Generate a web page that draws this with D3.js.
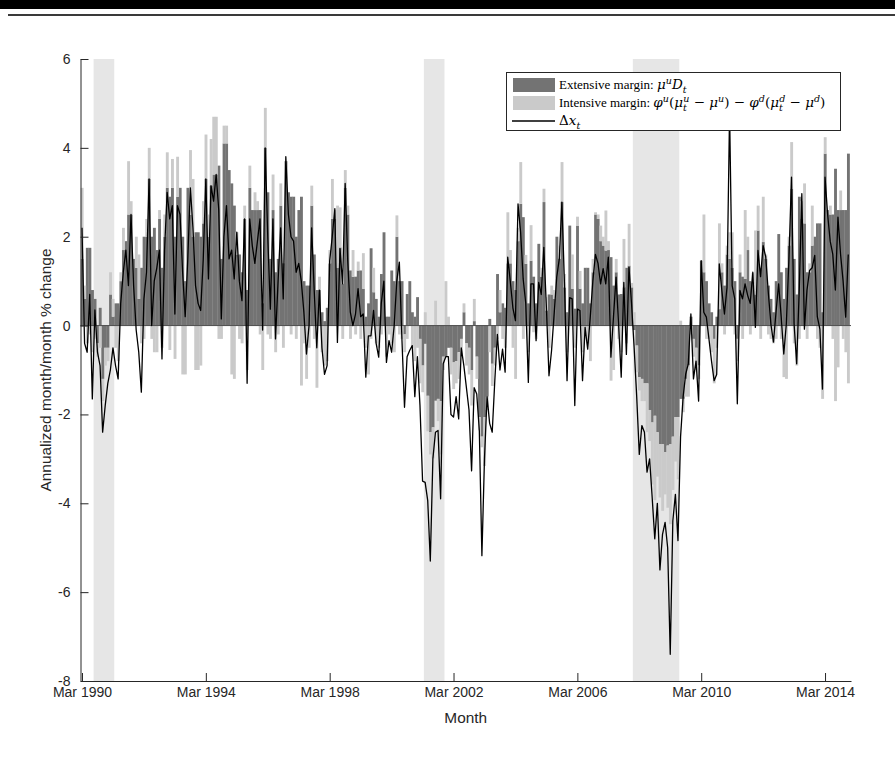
<html>
<head>
<script src="https://d3js.org/d3.v7.min.js"></script>
<style>
  body { margin: 0; background: #fff; }
  .axis text { font-family: "Liberation Sans", Arial, sans-serif; font-size: 14px; fill: #262626; }
  .axis line, .axis path { stroke: #262626; }
  .legend text { font-family: "Liberation Serif", serif; font-size: 13px; fill: #000; }
  .legend tspan.m { font-family: "DejaVu Serif", serif; font-size: 13.5px; }
  .legend tspan.s { font-family: "DejaVu Serif", serif; font-size: 9.5px; }
</style>
</head>
<body>
<svg id="fig" width="895" height="767"></svg>
<script>
// months from Mar 1990 to Dec 2014, one value per month
const extensive = [
  1.5, 0.6, 1.75, 1.75, 0.8, 0.6, -0.4, 0.4, -1.2, -0.5, -0.5, 0.7, 0.2, 0.5, 0.5, 1.0, 1.7, 1.9, 2.5, 2.5,
  1.5, 1.3, 0.6, 1.3, 2.0, 2.0, 3.3, 2.0, 2.2, 1.7, 2.4, 1.3, 2.0, 3.1, 2.9, 3.1, 2.0, 2.9, 3.1, 2.0,
  1.0, 3.1, 2.5, 2.0, 2.1, 2.1, 2.0, 2.3, 3.3, 2.0, 3.15, 3.4, 3.4, 3.6, 1.5, 4.1, 4.1, 3.5, 3.2, 2.7,
  1.6, 1.6, 1.2, 2.4, 0.8, 3.1, 2.6, 2.6, 2.6, 2.6, 0.5, 4.0, 3.0, 1.5, 2.6, 1.2, 1.5, 2.7, 1.4, 3.7,
  3.0, 2.9, 2.9, 2.0, 2.6, 2.9, 1.0, 0.9, 0.9, 2.7, 1.6, 0.8, 0.8, 0.3, 0.1, 0.4, 1.4, 2.4, 2.4, 1.3,
  1.76, 0.94, 3.1, 2.5, 1.24, 1.1, 1.1, 1.24, 1.24, 0.83, 0.2, 0.5, 1.74, 0.75, 0.6, 0.2, 1.16, 2.1, 0.2, 0.2,
  1.24, 1.0, 2.0, 1.0, 1.0, -0.2, 0.71, 1.0, 0.3, 0.2, 0.64, -0.3, -0.9, -0.41, -1.58, -2.4, -2.29, -1.69, -1.65, -1.7,
  -0.7, -0.7, -0.5, -0.5, -0.83, -0.8, -0.6, -0.3, 0.3, -0.4, -0.5, -1.0, 0.1, -0.7, -2.06, -2.5, -2.06, -1.6, 0.15, -0.86,
  -0.5, 1.16, 0.3, 0.5, 0.4, 1.4, 1.4, 1.0, 0.8, 1.9, 2.74, 2.44, 1.39, 0.5, 1.46, 1.1, 0.5, 1.84, 1.1, 2.78,
  0.34, 0.7, 0.7, 0.6, 2.0, 1.5, 2.78, 0.86, 0.3, 2.25, 0.83, 0.38, 2.25, 0.83, 0.5, 1.3, 1.3, 0.5, 1.2, 2.5,
  2.4, 1.9, 1.8, 1.69, 1.7, 1.54, 0.9, 1.2, 0.7, 0.71, 0.86, 1.3, 1.35, 0.86, -0.1, -0.45, -1.16, -1.2, -1.3, -1.3,
  -1.9, -2.18, -2.03, -2.4, -2.67, -2.67, -2.85, -2.7, -2.67, -2.5, -2.06, -2.06, -1.65, -1.65, -1.2, -0.9, 0.2, -0.3, -0.5, -0.9,
  1.46, 1.2, 1.0, 0.5, 0.3, -0.3, 0.2, 0.37, 1.2, 0.9, 1.6, 1.5, 1.3, 1.0, -0.3, 1.2, 1.1, 1.05, 1.7, 1.0,
  0.98, 0.7, 2.14, 1.3, 1.88, 1.5, 0.9, 0.6, 0.3, 1.0, 2.06, 1.2, 0.6, 1.3, 1.8, 3.08, 1.5, 0.7, 2.9, 2.4,
  2.3, 1.2, 1.2, 1.8, 2.0, 2.3, 2.3, 0.3, 3.87, 2.6, 2.5, 2.5, 3.53, 2.6, 2.6, 2.6, 2.6, 3.87
];
const intensive = [
  1.6, 0.3, -0.4, -0.2, -0.6, -0.3, -0.3, -0.5, -0.5, -0.4, -0.3, 0.5, 0.4, -0.5, -0.8, 0.2, 0.5, 0.0, 1.2, 0.3,
  0.0, 0.7, 1.0, -0.4, -0.3, 0.4, 0.7, -0.3, -0.6, -0.6, 0.2, -0.5, 0.5, 0.8, -0.55, 0.65, -0.75, 0.9, 0.0, -1.1,
  -1.1, 0.0, 1.45, 1.3, -1.0, -1.0, -0.9, 0.5, 1.0, 0.5, 1.05, 1.3, 1.3, -0.3, -0.3, 0.4, 0.4, 0.0, -1.1, -1.2,
  0.5, -0.3, -0.4, 0.3, -1.0, 0.5, 0.0, 0.4, 0.2, -0.2, -1.0, 0.9, -0.2, -0.3, 0.8, -0.6, -0.2, 0.5, -0.5, 0.0,
  0.0, -0.2, 0.0, -0.3, 0.0, -1.35, -0.4, -1.2, -0.5, 0.45, -0.3, -1.4, 0.3, -0.6, -0.9, -0.8, 0.3, 0.9, 0.2, 1.4,
  0.9, -0.3, 0.4, 0.2, -0.3, 0.6, -0.2, 0.2, -0.3, 0.8, -0.5, -1.1, -0.3, 0.55, -0.4, -0.5, -0.2, 0.0, -0.7, -0.2,
  -0.4, -0.6, 0.48, -0.2, -0.3, -0.4, -0.3, 0.0, -0.5, -0.8, -0.5, -1.0, -0.6, 0.3, -0.8, -0.5, -0.7, 0.56, -0.5, -1.2,
  -0.3, 1.0, 0.2, -0.6, -0.6, -0.5, -0.6, -0.4, 0.2, -0.5, -0.6, -0.8, 0.5, -0.5, -0.3, -0.24, -1.1, -0.3, -0.6, -0.5,
  -0.4, -0.3, 0.5, -0.3, -0.5, 1.15, 0.3, -0.5, -1.2, 0.3, 0.94, -0.3, 0.2, -0.6, 0.8, -0.15, -0.3, 0.0, 0.2, 0.3,
  0.3, -0.5, 0.2, 0.2, 0.0, 0.3, 0.9, 0.3, -0.6, 0.0, 0.77, -0.5, 0.2, 0.4, -0.6, -0.2, -0.4, -0.8, 0.3, 0.05,
  0.1, 0.35, 0.2, 0.9, 0.2, -1.24, -1.0, 0.3, -0.3, -0.6, 1.09, -0.4, 0.94, 0.1, 0.3, -0.6, -0.3, -0.5, -0.4, -1.1,
  -0.7, -1.4, -1.9, -1.0, -1.2, -1.5, -0.95, -1.4, -1.8, -1.2, -1.0, -1.4, 0.11, -0.3, -0.4, -0.7, -0.2, -0.4, -0.5, -0.3,
  0.0, 1.3, -0.3, -0.3, -0.6, -1.0, -0.5, 1.93, 0.2, -0.2, 0.2, 0.6, 0.8, -0.2, -0.5, 0.4, -0.3, 1.55, 0.3, -0.2,
  0.2, 1.44, 0.56, -0.3, 1.02, 0.1, -0.2, -0.3, -0.4, -0.3, 0.0, -0.3, -1.16, -1.2, 0.2, 1.05, -0.4, -0.9, -0.3, 0.4,
  0.9, -0.3, 0.2, 0.9, 0.0, -0.3, -0.5, -1.65, 0.37, 0.0, 0.2, -0.3, -1.7, -0.94, 0.44, -0.3, -0.6, -1.3
];
const deltaX = [
  2.2, -0.4, -0.6, 0.7, -1.65, 0.35, -0.6, -0.9, -2.4, -1.8, -1.3, -1.0, -0.5, -0.9, -1.2, 0.5, 1.2, 1.7, 0.9, 2.5,
  0.9, -0.1, -0.6, -1.5, 0.6, 1.2, 3.3, 0.0, 1.0, 1.3, 1.7, -0.75, 1.7, 3.0, 2.4, 2.7, 0.26, 2.7, 2.5, 1.2,
  0.2, 1.5, 3.1, 2.2, 0.9, 0.5, 0.34, 1.5, 3.3, 1.05, 3.15, 2.8, 3.4, 2.6, 0.15, 2.0, 2.7, 1.5, 1.7, 1.05,
  2.1, 1.0, 0.56, 2.4, -1.3, 2.4, 1.8, 1.4, 1.9, 2.4, -0.1, 4.0, 2.0, 0.37, 2.4, -0.3, 1.0, 2.2, 0.6, 3.8,
  2.5, 2.0, 1.9, 1.2, 1.4, 1.0, 0.3, -0.64, 0.0, 2.2, 0.8, -0.5, 0.8, -0.5, -1.1, -0.9, 1.46, 2.0, 2.63, -0.38,
  1.73, 0.94, 3.2, 1.46, 0.3, 0.0, 0.26, 0.83, 0.2, 0.26, -1.16, -0.23, -0.23, 0.34, -0.4, -0.71, 0.5, 1.0, -0.83, -0.34,
  -0.6, 0.0, 1.0, 1.43, -0.3, -1.84, -0.7, -0.56, -0.45, -1.6, -0.7, -1.8, -3.5, -3.53, -3.94, -5.3, -3.0, -2.4, -2.36, -3.9,
  -0.86, -0.7, -0.7, -2.0, -2.06, -1.6, -2.1, -0.5, -0.9, -1.4, -1.9, -3.27, -1.4, -1.54, -2.36, -5.18, -3.0, -1.6, -2.2, -2.4,
  -1.24, -0.2, -1.0, -0.53, -1.05, 1.54, 1.0, 0.4, 0.11, 2.74, 2.1, 1.05, 0.5, -1.28, 0.94, 0.94, -0.34, 0.97, 0.7, 1.76,
  0.4, -1.13, -0.56, 0.26, 1.09, 1.5, 2.78, 0.94, -1.24, 0.63, 0.6, -1.8, 0.37, 0.34, -1.24, -0.04, -0.53, 0.19, 1.0, 1.6,
  1.4, 0.94, 1.28, 0.94, 1.54, -0.71, 0.2, 1.09, 0.0, -1.16, 0.97, -0.65, 1.31, 0.49, -0.49, -1.6, -2.9, -2.25, -2.4, -3.3,
  -3.0, -3.87, -4.8, -4.0, -5.5, -4.7, -4.43, -5.0, -7.4, -4.4, -3.8, -4.84, -2.5, -1.6, -1.09, -0.86, 0.26, -1.2, -0.8, -1.7,
  1.46, 0.3, 0.19, -0.3, -0.8, -1.24, -1.1, 1.39, 0.79, 0.26, 0.86, 4.8, 0.9, 0.6, -1.76, 0.79, 0.6, 0.94, 0.68, 0.5,
  1.2, -0.04, 1.69, 1.1, 1.8, 1.55, 0.75, 0.04, -0.37, 0.3, 0.94, 0.2, -0.64, 0.04, 1.5, 3.34, 0.04, -0.86, 0.8, 2.97,
  -0.08, 0.8, 1.24, 1.3, 1.58, 0.2, -0.08, -1.43, 3.34, 2.5, 1.9, 1.6, 0.8, 2.44, 1.61, 1.0, 0.19, 1.6
];

// NBER recessions as [first month, last month] index from Mar 1990
const recessions = [[4, 12], [132, 140], [213, 231]];
const xTickMonths = [0, 48, 96, 144, 192, 240, 288];
const xTickLabels = ['Mar 1990', 'Mar 1994', 'Mar 1998', 'Mar 2002', 'Mar 2006', 'Mar 2010', 'Mar 2014'];
const yTicks = [-8, -6, -4, -2, 0, 2, 4, 6];

const svg = d3.select('#fig');
const margins = {top: 59, right: 44, bottom: 86, left: 80.5};
const width = +svg.attr('width');
const height = +svg.attr('height');

// page header rule
svg.append('rect').attr('x', 0).attr('y', 0).attr('width', width).attr('height', 9).attr('fill', '#000');
svg.append('line').attr('x1', 8).attr('x2', width).attr('y1', 15).attr('y2', 15)
  .attr('stroke', '#3a3a3a').attr('stroke-width', 2);

const x = d3.scaleLinear().domain([-0.58, 298.06]).range([margins.left, width - margins.right]);
const y = d3.scaleLinear().domain([-8, 6]).range([height - margins.bottom, margins.top]);

const chart = svg.append('g').attr('class', 'chart');

chart.selectAll('rect.rec')
  .data(recessions)
  .enter().append('rect')
  .attr('class', 'rec')
  .attr('x', d => x(d[0] + 0.5))
  .attr('width', d => x(d[1] + 0.5) - x(d[0] + 0.5))
  .attr('y', y(6))
  .attr('height', y(-8) - y(6))
  .attr('fill', '#e6e6e6');

// stacked bars, positives up from 0 and negatives down from 0
const bars = extensive.map((e, i) => {
  const n = intensive[i];
  let eLo = Math.min(0, e), eHi = Math.max(0, e);
  let nLo, nHi;
  if (n >= 0) { nLo = e >= 0 ? e : 0; nHi = nLo + n; }
  else { nHi = e < 0 ? e : 0; nLo = nHi + n; }
  return {i, eLo, eHi, nLo, nHi};
});

const bw = x(1) - x(0);
chart.selectAll('rect.ext')
  .data(bars)
  .enter().append('rect')
  .attr('class', 'ext')
  .attr('x', d => x(d.i - 0.5))
  .attr('width', bw + 0.3)
  .attr('y', d => y(d.eHi))
  .attr('height', d => y(d.eLo) - y(d.eHi))
  .attr('fill', '#737373');

chart.selectAll('rect.int')
  .data(bars)
  .enter().append('rect')
  .attr('class', 'int')
  .attr('x', d => x(d.i - 0.5))
  .attr('width', bw + 0.3)
  .attr('y', d => y(d.nHi))
  .attr('height', d => y(d.nLo) - y(d.nHi))
  .attr('fill', '#cacaca');

chart.append('line')
  .attr('x1', x.range()[0]).attr('x2', x.range()[1])
  .attr('y1', y(0)).attr('y2', y(0))
  .attr('stroke', '#4d4d4d').attr('stroke-width', 1);

const line = d3.line().x((d, i) => x(i)).y(d => y(d));
chart.append('path')
  .datum(deltaX)
  .attr('d', line)
  .attr('fill', 'none')
  .attr('stroke', '#000')
  .attr('stroke-width', 1.3)
  .attr('stroke-linejoin', 'round');

// axes, MATLAB style ticks pointing inward
let yAxis = d3.axisLeft(y).tickValues(yTicks).tickSize(-8).tickSizeOuter(0).tickPadding(10)
  .tickFormat(d => String(d));
svg.append('g')
  .attr('class', 'y axis')
  .attr('transform', `translate(${margins.left},0)`)
  .call(yAxis);

let xAxis = d3.axisBottom(x).tickValues(xTickMonths).tickSize(-8).tickSizeOuter(0).tickPadding(6)
  .tickFormat((d, k) => xTickLabels[k]);
svg.append('g')
  .attr('class', 'x axis')
  .attr('transform', `translate(0,${height - margins.bottom})`)
  .call(xAxis);

svg.selectAll('.axis text').attr('font-family', null).attr('font-size', null);

svg.append('text')
  .attr('class', 'label')
  .attr('x', (x.range()[0] + x.range()[1]) / 2)
  .attr('y', 723)
  .attr('text-anchor', 'middle')
  .style('font-family', '"Liberation Sans", Arial, sans-serif')
  .style('font-size', '15.4px')
  .style('fill', '#262626')
  .text('Month');

svg.append('text')
  .attr('class', 'label')
  .attr('transform', `translate(51,${(y(6) + y(-8)) / 2}) rotate(-90)`)
  .attr('text-anchor', 'middle')
  .style('font-family', '"Liberation Sans", Arial, sans-serif')
  .style('font-size', '15.4px')
  .style('fill', '#262626')
  .text('Annualized month/month % change');

// legend: m = math glyph, s = script (v 1 up, -1 down)
const legendRows = [
  [{s: 'Extensive margin: '}, {s: 'μ', m: 1}, {s: 'u', v: 1}, {s: 'D', m: 1}, {s: 't', v: -1}],
  [{s: 'Intensive margin: '}, {s: 'φ', m: 1}, {s: 'u', v: 1}, {s: '(', m: 1, up: 1}, {s: 'μ', m: 1},
   {s: 't', v: -1}, {s: 'u', v: 1, dx: -3.6}, {s: ' − ', m: 1, up: 1}, {s: 'μ', m: 1}, {s: 'u', v: 1},
   {s: ') − ', m: 1, up: 1}, {s: 'φ', m: 1}, {s: 'd', v: 1}, {s: '(', m: 1, up: 1}, {s: 'μ', m: 1},
   {s: 't', v: -1}, {s: 'd', v: 1, dx: -3.6}, {s: ' − ', m: 1, up: 1}, {s: 'μ', m: 1}, {s: 'd', v: 1}, {s: ')', m: 1, up: 1}],
  [{s: 'Δ', m: 1, up: 1}, {s: 'x', m: 1}, {s: 't', v: -1}]
];
const legendKinds = ['ext', 'int', 'line'];

const legend = svg.append('g').attr('class', 'legend');
legend.append('rect')
  .attr('x', 506.5).attr('y', 72.5).attr('width', 334).attr('height', 58)
  .attr('fill', '#fff').attr('stroke', '#262626').attr('stroke-width', 1);

legendRows.forEach((parts, r) => {
  const cy = 85 + r * 18;
  const kind = legendKinds[r];
  if (kind === 'line') {
    legend.append('line').attr('x1', 512).attr('x2', 555).attr('y1', cy).attr('y2', cy)
      .attr('stroke', '#000').attr('stroke-width', 1.3);
  } else {
    legend.append('rect').attr('x', 513).attr('y', cy - 7).attr('width', 42).attr('height', 14)
      .attr('fill', kind === 'ext' ? '#737373' : '#cacaca');
  }
  const t = legend.append('text').attr('x', 559).attr('y', cy + 4);
  let shift = 0;
  parts.forEach(p => {
    const target = p.v === 1 ? -5.5 : (p.v === -1 ? 3.5 : 0);
    const ts = t.append('tspan').text(p.s).attr('dy', target - shift);
    if (p.dx) ts.attr('dx', p.dx);
    if (p.m) ts.attr('class', 'm').style('font-style', p.up ? 'normal' : 'italic');
    if (p.v) ts.attr('class', 's').style('font-style', 'italic');
    shift = target;
  });
});
</script>
</body>
</html>
